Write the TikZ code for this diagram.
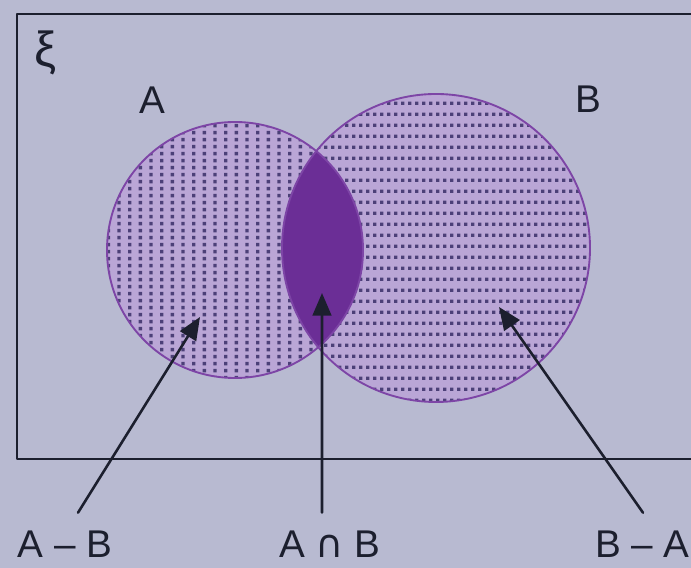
\documentclass[tikz,border=0pt]{standalone}
\usepackage{fontspec}
\setmainfont{Liberation Sans}
\newfontfamily\symfont{DejaVu Sans}
\usepackage{pgf,tikz}
\usetikzlibrary{arrows.meta}
\definecolor{paper}{rgb}{0.72,0.73,0.82}
\definecolor{lilac}{rgb}{0.73,0.65,0.84}
\definecolor{plum}{rgb}{0.42,0.18,0.59}
\definecolor{edgec}{rgb}{0.49,0.27,0.65}
\definecolor{dotc}{rgb}{0.30,0.25,0.47}
\definecolor{ink}{rgb}{0.11,0.12,0.18}
\begin{document}
\begin{tikzpicture}[line cap=round,line join=round,>={Triangle[length=0.68cm,width=0.56cm]},x=1.0cm,y=1.0cm,
  lbl/.style={text=ink,inner sep=0pt,outer xsep=0pt,outer ysep=0.54cm,font=\fontsize{33}{36}\selectfont}]
\clip(0.,0.) rectangle (20.73,17.04);
\fill [paper] (0.,0.) rectangle (20.73,17.04);
\draw [line width=2.4pt,ink] (21.5,16.62) -- (0.51,16.62) -- (0.51,3.27) -- (21.5,3.27);
\fill [lilac] (7.05,9.54) circle (3.84);
\fill [lilac] (13.08,9.6) circle (4.62);
% dots of A, in columns
\begin{scope}
\clip (7.05,9.54) circle (3.84);
\fill [dotc] \foreach \i in {0,...,24} {\foreach \j in {0,...,37} {({3.2+0.32*\i},{5.66+0.21*\j}) rectangle ++(0.1,0.1)}};
\end{scope}
% dots of B, in rows
\begin{scope}
\clip (13.08,9.6) circle (4.62);
\fill [dotc] \foreach \i in {0,...,44} {\foreach \j in {0,...,28} {({8.46+0.21*\i},{4.98+0.33*\j}) rectangle ++(0.1,0.1)}};
\end{scope}
\begin{scope}
\clip (7.05,9.54) circle (3.84);
\fill [plum] (13.08,9.6) circle (4.62);
\end{scope}
\draw [line width=1.6pt,edgec] (7.05,9.54) circle (3.84);
\draw [line width=1.6pt,edgec] (13.08,9.6) circle (4.62);
\node [lbl,font=\fontsize{42}{44}\selectfont] (xi) at (1.38,15.45) {ξ};
\node [lbl] (la) at (4.56,14.04) {A};
\node [lbl] (lb) at (17.64,14.07) {B};
\node [lbl] (amb) at (1.95,0.72) {A – B};
\node [lbl] (aib) at (9.9,0.72) {A {\symfont ∩} B};
\node [lbl] (bma) at (19.27,0.72) {B – A};
\coordinate (tamb) at (6.0,7.53);
\coordinate (taib) at (9.66,8.25);
\coordinate (tbma) at (14.97,7.83);
\draw [->,line width=2.2pt,ink] ([xshift=0.39cm]amb.north) -- (tamb);
\draw [->,line width=2.2pt,ink] ([xshift=-0.24cm]aib.north) -- (taib);
\draw [->,line width=2.2pt,ink] ([xshift=0.02cm]bma.north) -- (tbma);
\end{tikzpicture}
\end{document}
